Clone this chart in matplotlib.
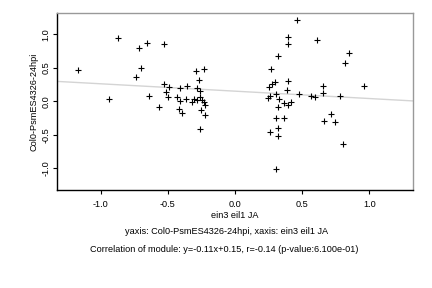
import numpy as np
import matplotlib

matplotlib.use("Agg")
import matplotlib.pyplot as plt  # noqa: E402

# values (ein3 eil1 JA vs Col0-PsmES4326-24hpi)
x_vals = [
    -1.169, -0.868, -0.935, -0.711, -0.651, -0.525, -0.696, -0.740, -0.638, -0.563,
    -0.525, -0.488, -0.511, -0.496, -0.407, -0.355, -0.431, -0.407, -0.362, -0.413,
    -0.398, -0.317, -0.302, -0.280, -0.290, -0.228, -0.265, -0.280, -0.258, -0.258,
    -0.243, -0.233, -0.221, -0.251, -0.221, -0.258,
    0.463, 0.397, 0.397, 0.613, 0.850, 0.821, 0.322, 0.271, 0.300, 0.278,
    0.255, 0.397, 0.390, 0.658, 0.658, 0.962, 0.307, 0.263, 0.248, 0.478,
    0.330, 0.568, 0.597, 0.783, 0.367, 0.419, 0.397, 0.322, 0.307, 0.367,
    0.717, 0.664, 0.746, 0.322, 0.263, 0.322, 0.806, 0.307,
]
y_vals = [
    0.466, 0.943, 0.033, 0.794, 0.868, 0.854, 0.496, 0.361, 0.078, -0.086,
    0.257, 0.207, 0.137, 0.063, 0.197, 0.227, 0.063, 0.007, 0.033, -0.116,
    -0.176, -0.011, 0.033, 0.018, 0.451, 0.481, 0.316, 0.197, 0.152, 0.063,
    0.018, -0.011, -0.056, -0.131, -0.206, -0.415,
    1.212, 0.958, 0.854, 0.913, 0.719, 0.570, 0.675, 0.481, 0.287, 0.257,
    0.212, 0.302, 0.167, 0.227, 0.122, 0.227, 0.107, 0.078, 0.048, 0.107,
    0.033, 0.078, 0.063, 0.078, -0.026, -0.011, -0.056, -0.086, -0.251, -0.251,
    -0.190, -0.295, -0.310, -0.400, -0.460, -0.519, -0.638, -1.012,
]
slope = -0.11
intercept = 0.15
x_ticks = [-1.0, -0.5, 0.0, 0.5, 1.0]
y_ticks = [-1.0, -0.5, 0.0, 0.5, 1.0]

x_name = "ein3 eil1 JA"
y_name = "Col0-PsmES4326-24hpi"

plt.rcParams["font.family"] = ["Liberation Sans", "DejaVu Sans"]

fig = plt.figure(figsize=(4.32, 2.88), dpi=100)
ax = fig.add_axes([0.132, 0.340, 0.824, 0.615])

ax.plot(x_vals, y_vals, linestyle="none", marker="+", color="black",
        markersize=4, markeredgewidth=0.8, zorder=3)
ax.axline((0, intercept), slope=slope, color="#d4d4d4", linewidth=1.0, zorder=2)

ax.set_xlim(-1.324, 1.324)
ax.set_ylim(-1.325, 1.316)
ax.set_xticks(x_ticks)
ax.set_yticks(y_ticks)
ax.set_xticklabels([f"{t:.1f}" for t in x_ticks])
ax.set_yticklabels([f"{t:.1f}" for t in y_ticks], rotation=90, va="center")
ax.tick_params(labelsize=6.6, length=3, width=0.8, direction="out")
ax.tick_params(axis="x", pad=4)
ax.tick_params(axis="y", pad=1.5)

for side in ("left", "bottom"):
    ax.spines[side].set_color("black")
    ax.spines[side].set_linewidth(1.0)
for side in ("top", "right"):
    ax.spines[side].set_color("#999999")
    ax.spines[side].set_linewidth(1.0)

ax.set_ylabel(y_name, fontsize=6.6, labelpad=2)

fig.text(235 / 432, 1 - 215 / 288, x_name, ha="center", va="center", fontsize=6.6)
fig.text(227 / 432, 1 - 231 / 288, f"yaxis: {y_name}, xaxis: {x_name}",
         ha="center", va="center", fontsize=6.6)
fig.text(224 / 432, 1 - 250 / 288,
         "Correlation of module: y=-0.11x+0.15, r=-0.14 (p-value:6.100e-01)",
         ha="center", va="center", fontsize=6.6)

fig.savefig("out.png", dpi=100)
plt.close(fig)
